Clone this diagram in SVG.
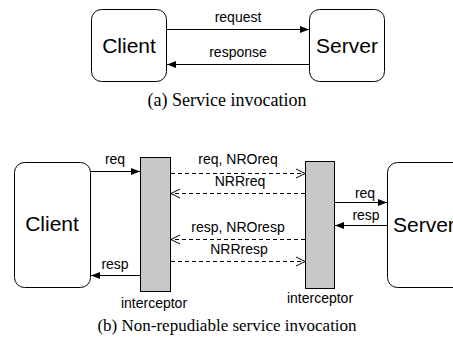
<svg xmlns="http://www.w3.org/2000/svg" width="453" height="343" viewBox="0 0 453 343">
<defs>
<marker id="fa" markerUnits="userSpaceOnUse" markerWidth="10" markerHeight="8" refX="9" refY="4" orient="auto">
<path d="M0,0.5 L9,4 L0,7.5 Z" fill="#000"/>
</marker>
<marker id="oa" markerUnits="userSpaceOnUse" markerWidth="12" markerHeight="12" refX="10" refY="6" orient="auto">
<path d="M1,1.5 L10,6 L1,10.5" fill="none" stroke="#000" stroke-width="1"/>
</marker>
<style>
.box{fill:#fff;stroke:#000;stroke-width:1}
.ic{fill:#c8c8c8;stroke:#000;stroke-width:1}
.big{font-family:"Liberation Sans",Arial,sans-serif;font-size:21px;fill:#000}
.lbl{font-family:"Liberation Sans",Arial,sans-serif;font-size:14px;fill:#000;text-anchor:middle}
.cap{font-family:"Liberation Serif","Times New Roman",serif;font-size:17px;fill:#000;text-anchor:middle}
.sl{fill:none;stroke:#000;stroke-width:1;marker-end:url(#fa)}
.dl{fill:none;stroke:#000;stroke-width:1;stroke-dasharray:4,3;marker-end:url(#oa)}
</style>
</defs>
<g id="client-a"><rect class="box" x="91.5" y="9.5" width="75" height="72" rx="10"/><text class="big" x="129" y="53" text-anchor="middle">Client</text></g>
<g id="server-a"><rect class="box" x="309.5" y="9.5" width="75" height="72" rx="10"/><text class="big" x="347" y="53" text-anchor="middle">Server</text></g>
<g id="client-b"><rect class="box" x="14.5" y="162.5" width="76" height="125" rx="10"/><text class="big" x="52" y="231" text-anchor="middle">Client</text></g>
<g id="interceptor-l"><rect class="ic" x="140.5" y="157.5" width="30" height="134"/><text class="lbl" x="154" y="308">interceptor</text></g>
<g id="interceptor-r"><rect class="ic" x="305.5" y="161.5" width="29" height="127"/><text class="lbl" x="320" y="303">interceptor</text></g>
<g id="server-b"><rect class="box" x="387.5" y="162.5" width="76" height="125" rx="10"/><text class="big" x="393" y="232">Server</text></g>
<g id="connectors">
<path class="sl" d="M167,29.5 H309"/><text class="lbl" x="238" y="22">request</text>
<path class="sl" d="M309,64.5 H167"/><text class="lbl" x="238" y="57">response</text>
<path class="sl" d="M91,171.5 H140"/><text class="lbl" x="115" y="164">req</text>
<path class="sl" d="M140,275.5 H91"/><text class="lbl" x="115" y="269">resp</text>
<path class="dl" d="M171,173.5 H305"/><text class="lbl" x="238" y="164">req, NROreq</text>
<path class="dl" d="M305,193.5 H171"/><text class="lbl" x="240" y="186">NRRreq</text>
<path class="dl" d="M305,239.5 H171"/><text class="lbl" x="238" y="232">resp, NROresp</text>
<path class="dl" d="M171,261.5 H305"/><text class="lbl" x="239" y="254">NRRresp</text>
<path class="sl" d="M335,202.5 H387"/><text class="lbl" x="365" y="198">req</text>
<path class="sl" d="M387,225.5 H335"/><text class="lbl" x="366" y="220">resp</text>
</g>
<text class="cap" x="227" y="106" style="font-size:18px">(a) Service invocation</text>
<text class="cap" x="227" y="331">(b) Non-repudiable service invocation</text>
</svg>
